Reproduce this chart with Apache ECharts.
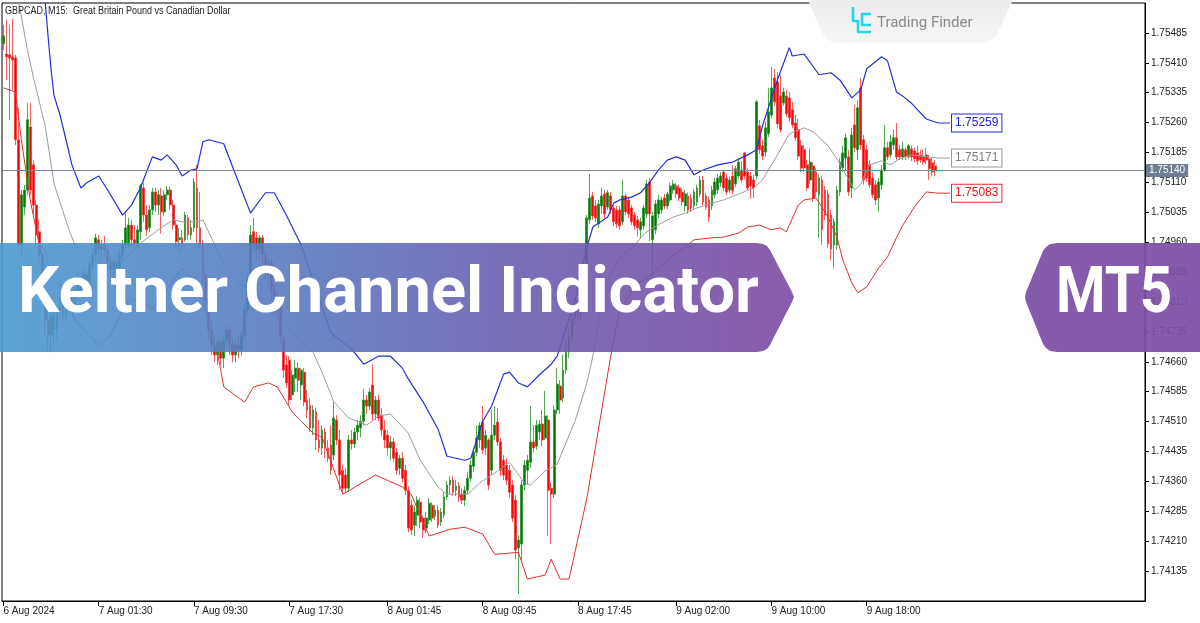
<!DOCTYPE html>
<html><head><meta charset="utf-8">
<script src="https://cdn.jsdelivr.net/npm/echarts@6/dist/echarts.min.js"></script>
<style>html,body{margin:0;padding:0;background:#fff;overflow:hidden}#c{width:1200px;height:623px}</style>
</head><body><div id="c"></div>
<script>
const chartTitle = 'GBPCAD, M15:  Great Britain Pound vs Canadian Dollar';
const bannerText = 'Keltner Channel Indicator';
const badgeText = 'MT5';
const brandText = 'Trading Finder';
const slotCount = 384;
const tickIndex = [0, 32, 64, 96, 129, 161, 193, 226, 258, 290];
const tickLabels = ['6 Aug 2024', '7 Aug 01:30', '7 Aug 09:30', '7 Aug 17:30', '8 Aug 01:45', '8 Aug 09:45', '8 Aug 17:45', '9 Aug 02:00', '9 Aug 10:00', '9 Aug 18:00'];
const priceMin = 1.74060, priceMax = 1.75560, priceStep = 0.00075;
// [open, close, low, high]
const candles = [
[1.75458,1.75478,1.75442,1.75505],[1.75432,1.75425,1.75367,1.75518],[1.75430,1.75422,1.75267,1.75505],[1.75425,1.75417,1.75342,1.75520],
[1.75422,1.75217,1.75204,1.75430],[1.75217,1.74953,1.74941,1.75297],[1.74953,1.75079,1.74928,1.75091],[1.75048,1.75091,1.75028,1.75104],
[1.75091,1.75267,1.75079,1.75309],[1.75249,1.75091,1.75079,1.75309],[1.75154,1.75053,1.75028,1.75166],[1.75053,1.74978,1.74953,1.75066],
[1.74986,1.74928,1.74910,1.75016],[1.74928,1.74840,1.74815,1.74941],[1.74840,1.74765,1.74727,1.74853],[1.74765,1.74727,1.74690,1.74790],
[1.74727,1.74777,1.74684,1.74785],[1.74777,1.74740,1.74702,1.74802],[1.74740,1.74790,1.74715,1.74802],[1.74790,1.74815,1.74765,1.74835],
[1.74815,1.74770,1.74752,1.74828],[1.74770,1.74815,1.74760,1.74828],[1.74815,1.74840,1.74802,1.74860],[1.74840,1.74802,1.74785,1.74853],
[1.74802,1.74828,1.74790,1.74845],[1.74828,1.74865,1.74815,1.74885],[1.74865,1.74840,1.74825,1.74878],[1.74840,1.74878,1.74828,1.74895],
[1.74878,1.74853,1.74835,1.74890],[1.74853,1.74903,1.74840,1.74915],[1.74903,1.74928,1.74890,1.74946],[1.74928,1.74971,1.74910,1.74981],
[1.74966,1.74941,1.74920,1.74978],[1.74941,1.74953,1.74910,1.74966],[1.74953,1.74941,1.74920,1.74976],[1.74941,1.74910,1.74890,1.74953],
[1.74910,1.74890,1.74865,1.74928],[1.74890,1.74910,1.74860,1.74920],[1.74910,1.74895,1.74870,1.74928],[1.74895,1.74928,1.74878,1.74941],
[1.74928,1.74953,1.74910,1.74966],[1.74953,1.74996,1.74941,1.75033],[1.74953,1.75003,1.74941,1.75021],[1.75003,1.74966,1.74946,1.75016],
[1.74966,1.74956,1.74941,1.75003],[1.74956,1.74991,1.74941,1.75003],[1.74986,1.75101,1.74966,1.75106],[1.75096,1.75028,1.75011,1.75109],
[1.75028,1.74991,1.74976,1.75053],[1.74996,1.75041,1.74986,1.75053],[1.75041,1.75086,1.75028,1.75096],[1.75086,1.75053,1.75036,1.75096],
[1.75053,1.75079,1.75028,1.75091],[1.75076,1.75036,1.74981,1.75096],[1.75036,1.75079,1.75026,1.75091],[1.75079,1.75091,1.75066,1.75101],
[1.75091,1.75053,1.75041,1.75099],[1.75053,1.75003,1.74991,1.75066],[1.75003,1.74961,1.74946,1.75016],[1.74966,1.74971,1.74941,1.74996],
[1.74971,1.74953,1.74935,1.74991],[1.74966,1.75028,1.74961,1.75036],[1.75021,1.74978,1.74966,1.75028],[1.74978,1.74996,1.74966,1.75016],
[1.74996,1.75111,1.74986,1.75121],[1.75096,1.74996,1.74953,1.75154],[1.74996,1.74953,1.74941,1.75086],[1.74953,1.74878,1.74853,1.74966],
[1.74878,1.74815,1.74790,1.74890],[1.74815,1.74740,1.74715,1.74828],[1.74740,1.74702,1.74677,1.74765],[1.74702,1.74677,1.74659,1.74727],
[1.74677,1.74710,1.74652,1.74720],[1.74710,1.74669,1.74652,1.74720],[1.74669,1.74715,1.74644,1.74727],[1.74715,1.74740,1.74702,1.74752],
[1.74740,1.74702,1.74677,1.74752],[1.74702,1.74677,1.74659,1.74720],[1.74677,1.74702,1.74659,1.74715],[1.74702,1.74690,1.74669,1.74727],
[1.74690,1.74727,1.74677,1.74740],[1.74727,1.74790,1.74715,1.74802],[1.74790,1.74865,1.74777,1.74878],[1.74878,1.74978,1.74860,1.75003],
[1.74986,1.74953,1.74941,1.75021],[1.74971,1.74941,1.74920,1.74986],[1.74941,1.74971,1.74920,1.74978],[1.74971,1.74928,1.74903,1.74978],
[1.74928,1.74890,1.74865,1.74941],[1.74890,1.74910,1.74853,1.74920],[1.74910,1.74840,1.74815,1.74920],[1.74840,1.74802,1.74777,1.74853],
[1.74802,1.74815,1.74765,1.74835],[1.74815,1.74727,1.74702,1.74820],[1.74715,1.74639,1.74619,1.74727],[1.74652,1.74607,1.74594,1.74677],
[1.74664,1.74564,1.74551,1.74674],[1.74577,1.74627,1.74564,1.74639],[1.74619,1.74644,1.74584,1.74664],[1.74644,1.74614,1.74584,1.74659],
[1.74602,1.74639,1.74564,1.74644],[1.74634,1.74559,1.74549,1.74644],[1.74564,1.74539,1.74519,1.74589],[1.74551,1.74494,1.74484,1.74569],
[1.74494,1.74539,1.74476,1.74551],[1.74534,1.74464,1.74439,1.74544],[1.74464,1.74444,1.74433,1.74514],[1.74444,1.74489,1.74426,1.74501],
[1.74484,1.74444,1.74418,1.74494],[1.74444,1.74418,1.74408,1.74464],[1.74451,1.74388,1.74376,1.74501],[1.74426,1.74519,1.74413,1.74559],
[1.74514,1.74464,1.74451,1.74526],[1.74464,1.74376,1.74338,1.74489],[1.74388,1.74343,1.74333,1.74401],[1.74376,1.74343,1.74333,1.74393],
[1.74343,1.74464,1.74333,1.74476],[1.74464,1.74454,1.74439,1.74489],[1.74454,1.74484,1.74444,1.74494],[1.74484,1.74501,1.74464,1.74514],
[1.74494,1.74511,1.74471,1.74526],[1.74511,1.74564,1.74501,1.74592],[1.74564,1.74549,1.74529,1.74577],[1.74549,1.74584,1.74539,1.74594],
[1.74602,1.74529,1.74511,1.74654],[1.74529,1.74564,1.74514,1.74574],[1.74564,1.74519,1.74511,1.74577],[1.74526,1.74489,1.74474,1.74544],
[1.74489,1.74464,1.74444,1.74514],[1.74476,1.74444,1.74426,1.74489],[1.74444,1.74459,1.74413,1.74474],[1.74459,1.74418,1.74408,1.74469],
[1.74433,1.74388,1.74376,1.74444],[1.74393,1.74418,1.74376,1.74426],[1.74418,1.74368,1.74358,1.74433],[1.74388,1.74338,1.74326,1.74401],
[1.74338,1.74243,1.74233,1.74348],[1.74300,1.74238,1.74225,1.74313],[1.74250,1.74283,1.74223,1.74300],[1.74275,1.74313,1.74248,1.74323],
[1.74308,1.74258,1.74243,1.74318],[1.74268,1.74238,1.74218,1.74275],[1.74243,1.74268,1.74230,1.74283],[1.74263,1.74305,1.74253,1.74318],
[1.74300,1.74268,1.74258,1.74308],[1.74273,1.74288,1.74263,1.74300],[1.74288,1.74250,1.74243,1.74300],[1.74258,1.74283,1.74248,1.74293],
[1.74275,1.74321,1.74268,1.74333],[1.74321,1.74351,1.74313,1.74361],[1.74351,1.74363,1.74328,1.74373],[1.74363,1.74333,1.74323,1.74373],
[1.74338,1.74348,1.74323,1.74363],[1.74348,1.74321,1.74308,1.74358],[1.74328,1.74313,1.74303,1.74343],[1.74313,1.74338,1.74298,1.74348],
[1.74338,1.74368,1.74328,1.74383],[1.74368,1.74401,1.74358,1.74413],[1.74398,1.74433,1.74383,1.74444],[1.74433,1.74469,1.74423,1.74501],
[1.74464,1.74501,1.74444,1.74509],[1.74509,1.74439,1.74428,1.74549],[1.74444,1.74476,1.74426,1.74489],[1.74464,1.74351,1.74338,1.74469],
[1.74388,1.74476,1.74376,1.74539],[1.74476,1.74501,1.74464,1.74549],[1.74509,1.74459,1.74448,1.74544],[1.74459,1.74388,1.74373,1.74469],
[1.74413,1.74376,1.74363,1.74426],[1.74401,1.74363,1.74351,1.74418],[1.74388,1.74333,1.74318,1.74401],[1.74351,1.74268,1.74258,1.74363],
[1.74313,1.74188,1.74165,1.74326],[1.74193,1.74213,1.74077,1.74225],[1.74203,1.74351,1.74162,1.74363],[1.74351,1.74401,1.74338,1.74413],
[1.74388,1.74413,1.74353,1.74426],[1.74408,1.74459,1.74393,1.74549],[1.74459,1.74444,1.74433,1.74501],[1.74448,1.74501,1.74439,1.74514],
[1.74484,1.74504,1.74464,1.74514],[1.74504,1.74464,1.74448,1.74539],[1.74469,1.74524,1.74464,1.74587],[1.74514,1.74338,1.74223,1.74526],
[1.74343,1.74328,1.74203,1.74358],[1.74328,1.74539,1.74318,1.74551],[1.74539,1.74604,1.74529,1.74644],[1.74599,1.74564,1.74529,1.74614],
[1.74569,1.74639,1.74559,1.74677],[1.74639,1.74684,1.74629,1.74715],[1.74684,1.74720,1.74669,1.74740],[1.74720,1.74770,1.74710,1.74785],
[1.74770,1.74802,1.74752,1.74820],[1.74802,1.74777,1.74760,1.74820],[1.74777,1.74845,1.74765,1.74860],[1.74840,1.74895,1.74825,1.74910],
[1.74890,1.75021,1.74880,1.75028],[1.75016,1.75071,1.75006,1.75131],[1.75076,1.75026,1.75016,1.75086],[1.75051,1.75021,1.75011,1.75066],
[1.75006,1.75056,1.74996,1.75066],[1.75051,1.75076,1.75031,1.75096],[1.75081,1.75031,1.75021,1.75091],[1.75048,1.75084,1.75041,1.75091],
[1.75076,1.75041,1.75031,1.75086],[1.75046,1.75011,1.75001,1.75053],[1.75041,1.75006,1.74996,1.75051],[1.75041,1.75001,1.74991,1.75051],
[1.75011,1.75076,1.75003,1.75116],[1.75076,1.75036,1.75028,1.75081],[1.75066,1.75031,1.75021,1.75074],[1.75046,1.75011,1.75003,1.75053],
[1.75028,1.75001,1.74991,1.75036],[1.75016,1.74996,1.74976,1.75026],[1.74991,1.75011,1.74971,1.75021],[1.75001,1.75046,1.74991,1.75053],
[1.75031,1.75106,1.75021,1.75116],[1.75111,1.75031,1.74963,1.75121],[1.74966,1.75026,1.74865,1.75036],[1.74991,1.75056,1.74981,1.75066],
[1.75031,1.75066,1.75021,1.75079],[1.75041,1.75066,1.75031,1.75074],[1.75071,1.75051,1.75043,1.75081],[1.75051,1.75081,1.75043,1.75086],
[1.75066,1.75101,1.75061,1.75109],[1.75091,1.75106,1.75081,1.75116],[1.75101,1.75081,1.75071,1.75109],[1.75096,1.75071,1.75063,1.75104],
[1.75086,1.75061,1.75053,1.75094],[1.75051,1.75081,1.75038,1.75091],[1.75076,1.75041,1.75031,1.75084],[1.75071,1.75046,1.75036,1.75081],
[1.75051,1.75086,1.75043,1.75094],[1.75061,1.75096,1.75051,1.75104],[1.75081,1.75116,1.75074,1.75126],[1.75116,1.75061,1.75053,1.75126],
[1.75076,1.75048,1.75041,1.75084],[1.75066,1.75023,1.75011,1.75074],[1.75051,1.75091,1.75041,1.75101],[1.75079,1.75111,1.75071,1.75121],
[1.75091,1.75121,1.75081,1.75131],[1.75109,1.75126,1.75099,1.75136],[1.75136,1.75096,1.75089,1.75141],[1.75121,1.75086,1.75079,1.75131],
[1.75091,1.75116,1.75084,1.75124],[1.75126,1.75089,1.75081,1.75154],[1.75106,1.75144,1.75099,1.75151],[1.75126,1.75161,1.75119,1.75171],
[1.75141,1.75116,1.75109,1.75164],[1.75184,1.75126,1.75119,1.75186],[1.75136,1.75096,1.75089,1.75146],[1.75126,1.75101,1.75069,1.75136],
[1.75116,1.75096,1.75071,1.75129],[1.75126,1.75312,1.75119,1.75317],[1.75252,1.75192,1.75181,1.75267],[1.75202,1.75176,1.75166,1.75217],
[1.75186,1.75247,1.75174,1.75262],[1.75232,1.75287,1.75224,1.75347],[1.75279,1.75347,1.75272,1.75400],[1.75372,1.75312,1.75302,1.75395],
[1.75362,1.75257,1.75247,1.75387],[1.75327,1.75242,1.75234,1.75380],[1.75309,1.75337,1.75302,1.75347],[1.75327,1.75282,1.75274,1.75342],
[1.75322,1.75272,1.75262,1.75337],[1.75292,1.75254,1.75247,1.75312],[1.75259,1.75222,1.75214,1.75279],[1.75242,1.75176,1.75166,1.75269],
[1.75202,1.75146,1.75136,1.75217],[1.75192,1.75146,1.75136,1.75204],[1.75154,1.75096,1.75089,1.75166],[1.75116,1.75161,1.75106,1.75194],
[1.75151,1.75071,1.75061,1.75161],[1.75136,1.75086,1.75074,1.75146],[1.75079,1.75121,1.74971,1.75131],[1.75116,1.74991,1.74953,1.75126],
[1.75091,1.75028,1.75016,1.75101],[1.75081,1.74956,1.74946,1.75091],[1.75028,1.74943,1.74915,1.75041],[1.74953,1.75011,1.74895,1.75021],
[1.74953,1.75091,1.74941,1.75101],[1.75086,1.75161,1.75076,1.75171],[1.75146,1.75184,1.75136,1.75202],[1.75171,1.75222,1.75141,1.75232],
[1.75174,1.75086,1.75076,1.75192],[1.75096,1.75229,1.75071,1.75247],[1.75254,1.75197,1.75186,1.75304],[1.75192,1.75297,1.75166,1.75317],
[1.75347,1.75204,1.75192,1.75372],[1.75217,1.75116,1.75104,1.75229],[1.75192,1.75121,1.75111,1.75204],[1.75154,1.75104,1.75096,1.75166],
[1.75121,1.75079,1.75071,1.75136],[1.75104,1.75066,1.75053,1.75116],[1.75071,1.75111,1.75038,1.75121],[1.75104,1.75141,1.75091,1.75154],
[1.75141,1.75197,1.75136,1.75254],[1.75197,1.75174,1.75166,1.75212],[1.75179,1.75212,1.75171,1.75229],[1.75204,1.75222,1.75192,1.75242],
[1.75222,1.75174,1.75166,1.75259],[1.75192,1.75174,1.75166,1.75204],[1.75174,1.75194,1.75166,1.75212],[1.75192,1.75174,1.75166,1.75197],
[1.75174,1.75202,1.75169,1.75207],[1.75194,1.75174,1.75164,1.75202],[1.75189,1.75169,1.75161,1.75197],[1.75184,1.75164,1.75154,1.75202],
[1.75179,1.75166,1.75159,1.75192],[1.75174,1.75161,1.75154,1.75192],[1.75179,1.75166,1.75156,1.75197],[1.75169,1.75144,1.75116,1.75179],
[1.75159,1.75136,1.75126,1.75171],[1.75151,1.75140,1.75126,1.75166]
];
// [bar index, price]
const upperBand = [[0,1.76095],[4,1.75889],[9,1.75769],[14,1.75563],[15,1.75475],[16,1.75392],[17,1.75327],[19,1.75279],[21,1.75217],[23,1.75154],[26,1.75096],[28,1.75109],[32,1.75126],[35,1.75091],[40,1.75028],[43,1.75053],[46,1.75096],[50,1.75174],[53,1.75166],[55,1.75179],[58,1.75154],[60,1.75126],[63,1.75141],[65,1.75144],[67,1.75212],[69,1.75217],[74,1.75207],[78,1.75129],[83,1.75033],[88,1.75084],[91,1.75084],[95,1.75028],[100,1.74953],[110,1.74732],[117,1.74692],[121,1.74654],[126,1.74674],[130,1.74674],[134,1.74644],[136,1.74617],[141,1.74559],[146,1.74491],[149,1.74423],[155,1.74413],[157,1.74418],[161,1.74511],[164,1.74549],[168,1.74629],[170,1.74634],[173,1.74607],[176,1.74597],[180,1.74627],[184,1.74654],[186,1.74674],[192,1.74815],[196,1.74948],[198,1.74998],[203,1.75023],[205,1.75058],[207,1.75066],[211,1.75073],[214,1.75084],[217,1.75109],[220,1.75141],[223,1.75166],[226,1.75174],[229,1.75166],[232,1.75129],[235,1.75141],[240,1.75154],[245,1.75161],[250,1.75179],[253,1.75192],[255,1.75252],[260,1.75367],[264,1.75448],[265,1.75427],[269,1.75432],[274,1.75380],[278,1.75385],[281,1.75367],[285,1.75322],[288,1.75342],[290,1.75395],[295,1.75425],[297,1.75415],[300,1.75337],[302,1.75327],[305,1.75309],[310,1.75269],[314,1.75259],[318,1.75259]];
const middleBand = [[0,1.75724],[5,1.75568],[8,1.75443],[10,1.75375],[14,1.75252],[17,1.75106],[22,1.74991],[24,1.74953],[28,1.74925],[32,1.74915],[36,1.74900],[40,1.74910],[43,1.74935],[47,1.74963],[52,1.74991],[57,1.75016],[60,1.75011],[65,1.75011],[67,1.75016],[71,1.74953],[74,1.74903],[80,1.74853],[87,1.74815],[93,1.74765],[100,1.74715],[104,1.74684],[107,1.74634],[111,1.74559],[116,1.74519],[122,1.74501],[126,1.74524],[130,1.74529],[136,1.74481],[140,1.74413],[146,1.74346],[149,1.74328],[156,1.74328],[160,1.74356],[164,1.74376],[166,1.74386],[170,1.74408],[175,1.74356],[177,1.74351],[182,1.74386],[186,1.74403],[192,1.74511],[196,1.74607],[198,1.74674],[202,1.74853],[207,1.74920],[212,1.74953],[216,1.74986],[221,1.75008],[225,1.75023],[229,1.75033],[233,1.75046],[238,1.75058],[242,1.75066],[248,1.75084],[252,1.75096],[255,1.75116],[260,1.75179],[264,1.75232],[269,1.75247],[272,1.75237],[277,1.75202],[280,1.75169],[284,1.75116],[286,1.75091],[288,1.75106],[291,1.75154],[295,1.75164],[298,1.75154],[301,1.75169],[305,1.75179],[311,1.75174],[314,1.75171],[318,1.75171]];
const lowerBand = [[0,1.75347],[4,1.75337],[6,1.75217],[9,1.75066],[12,1.74953],[14,1.74941],[16,1.74875],[19,1.74853],[24,1.74765],[28,1.74732],[32,1.74702],[36,1.74725],[40,1.74792],[43,1.74817],[47,1.74810],[50,1.74792],[55,1.74843],[60,1.74895],[65,1.74855],[67,1.74820],[71,1.74692],[72,1.74679],[74,1.74597],[81,1.74559],[84,1.74597],[89,1.74607],[92,1.74597],[97,1.74534],[104,1.74481],[107,1.74471],[114,1.74328],[125,1.74376],[134,1.74346],[137,1.74328],[143,1.74223],[150,1.74240],[155,1.74245],[161,1.74228],[165,1.74177],[173,1.74182],[176,1.74115],[182,1.74125],[184,1.74165],[187,1.74115],[190,1.74115],[196,1.74318],[204,1.74674],[207,1.74790],[213,1.74858],[217,1.74873],[223,1.74915],[229,1.74948],[232,1.74966],[238,1.74971],[242,1.74973],[247,1.74983],[250,1.74998],[254,1.75003],[258,1.74991],[261,1.74996],[263,1.74986],[267,1.75053],[269,1.75066],[273,1.75071],[277,1.75023],[280,1.74973],[282,1.74915],[285,1.74858],[287,1.74833],[290,1.74848],[294,1.74895],[297,1.74923],[300,1.74971],[302,1.75001],[306,1.75048],[310,1.75086],[314,1.75083],[318,1.75083]];

const slots = Array.from({length: slotCount}, (_, i) => String(i));
const tickMap = {};
tickIndex.forEach((t, k) => { tickMap[t] = tickLabels[k]; });
const lastClose = candles[candles.length - 1][1];
const axisFont = 'Liberation Sans, Arial, sans-serif';

function bandLabel(txtColor, border) {
  return {show: true, formatter: p => p.value[1].toFixed(5), color: txtColor, backgroundColor: '#ffffff',
    borderColor: border, borderWidth: 1, padding: [3, 3, 2, 3], fontSize: 12, fontFamily: axisFont, distance: 2};
}
function txt(x, y, text, font, fill, z, sx) {
  return {type: 'text', x: x, y: y, z: z || 100, silent: true, scaleX: sx || 1,
    style: {text: text, font: font, fill: fill, align: 'left', verticalAlign: 'middle', textAlign: 'left', textVerticalAlign: 'middle'}};
}

const chart = echarts.init(document.getElementById('c'), null, {renderer: 'canvas'});
chart.setOption({
  animation: false,
  backgroundColor: '#ffffff',
  grid: {left: 2, right: 55, top: 3, bottom: 22, show: true, borderColor: '#000', borderWidth: 1, backgroundColor: 'transparent'},
  xAxis: {
    type: 'category', data: slots, boundaryGap: true,
    axisLine: {show: true, lineStyle: {color: '#000', width: 1}},
    axisTick: {show: true, alignWithLabel: true, interval: (i) => (i in tickMap), length: 5, lineStyle: {color: '#000'}},
    axisLabel: {interval: (i) => (i in tickMap), formatter: (v, i) => tickMap[i] || '', align: 'left',
      color: '#222', fontSize: 10, fontFamily: axisFont, margin: 5},
    splitLine: {show: false}
  },
  yAxis: {
    type: 'value', position: 'right', min: priceMin, max: priceMax, interval: priceStep,
    axisLine: {show: true, lineStyle: {color: '#000', width: 1}},
    axisTick: {show: true, length: 4, lineStyle: {color: '#000'}},
    axisLabel: {formatter: v => v.toFixed(5), showMinLabel: false, showMaxLabel: false, color: '#222',
      fontSize: 10, fontFamily: axisFont, margin: 6},
    splitLine: {show: false}
  },
  series: [
    {
      type: 'candlestick', data: candles, barWidth: 2.3, z: 2,
      itemStyle: {color: '#007a00', color0: '#ff0000', borderColor: '#2a902a', borderColor0: '#f03636', borderWidth: 0.8}
    },
    {type: 'line', data: middleBand, symbol: 'none', lineStyle: {color: '#9c9c9c', width: 1}, z: 3,
      endLabel: bandLabel('#7d7d7d', '#9a9a9a'),
      markLine: {
        symbol: 'none', silent: true, animation: false, precision: 5,
        data: [{yAxis: lastClose}],
        lineStyle: {color: '#7a8598', width: 1, type: 'solid'},
        label: {position: 'end', formatter: () => lastClose.toFixed(5), color: '#fff', backgroundColor: '#6f7d91',
          padding: [2, 3, 1, 3], fontSize: 10, fontFamily: axisFont, distance: 1}
      }},
    {type: 'line', data: upperBand, symbol: 'none', lineStyle: {color: '#2330d6', width: 1.2}, z: 4,
      endLabel: bandLabel('#1b22d0', '#2330d6')},
    {type: 'line', data: lowerBand, symbol: 'none', lineStyle: {color: '#e0302e', width: 1}, z: 4,
      endLabel: bandLabel('#e01818', '#e0302e')}
  ],
  graphic: [
    txt(5, 11, chartTitle, '10px Liberation Sans, Arial, sans-serif', '#222', 100, 0.9),
    {type: 'polygon', z: 100, silent: true,
      shape: {points: [[808,0],[1013,0],[997,34],[993,39],[988,42],[982,43],[838,43],[832,42],[827,39],[823,34]]},
      style: {fill: {type: 'linear', x: 0, y: 0, x2: 0, y2: 1, colorStops: [{offset: 0, color: '#ececec'}, {offset: 1, color: '#f6f6f6'}]}}},
    {type: 'polyline', z: 101, silent: true, shape: {points: [[853,7],[853,21],[858,21],[858,32],[871,32]]},
      style: {stroke: '#27d4e8', lineWidth: 2.6, fill: null, lineJoin: 'round'}},
    {type: 'polyline', z: 101, silent: true, shape: {points: [[871,14],[862,14],[862,25],[871,25]]},
      style: {stroke: '#27d4e8', lineWidth: 2.6, fill: null, lineJoin: 'round'}},
    txt(877, 23, brandText, '15px Roboto, sans-serif', '#8a8a8a', 101),
    {type: 'polygon', z: 100, silent: true,
      shape: {points: [[0,243],[757,243],[763,244],[767,246],[770,250],[792,292],[794,297],[792,302],[770,345],[767,349],[763,351],[757,352],[0,352]]},
      style: {opacity: 0.9, fill: {type: 'linear', x: 0, y: 0, x2: 1, y2: 0, colorStops: [
        {offset: 0, color: '#4a9ad2'}, {offset: 0.4, color: '#5b76be'}, {offset: 0.62, color: '#6a60b2'}, {offset: 1, color: '#7c4ba3'}]}}},
    txt(18, 296, bannerText, 'bold 65px Roboto, sans-serif', '#ffffff', 102, 1.0),
    {type: 'polygon', z: 100, silent: true,
      shape: {points: [[1200,243],[1057,243],[1050,244],[1046,247],[1043,251],[1026,292],[1025,297],[1026,302],[1043,344],[1046,348],[1050,351],[1057,352],[1200,352]]},
      style: {opacity: 0.92, fill: '#7b4ea5'}},
    txt(1056, 296, badgeText, 'bold 65px Roboto, sans-serif', '#ffffff', 102, 0.87)
  ]
});
</script>
</body></html>
